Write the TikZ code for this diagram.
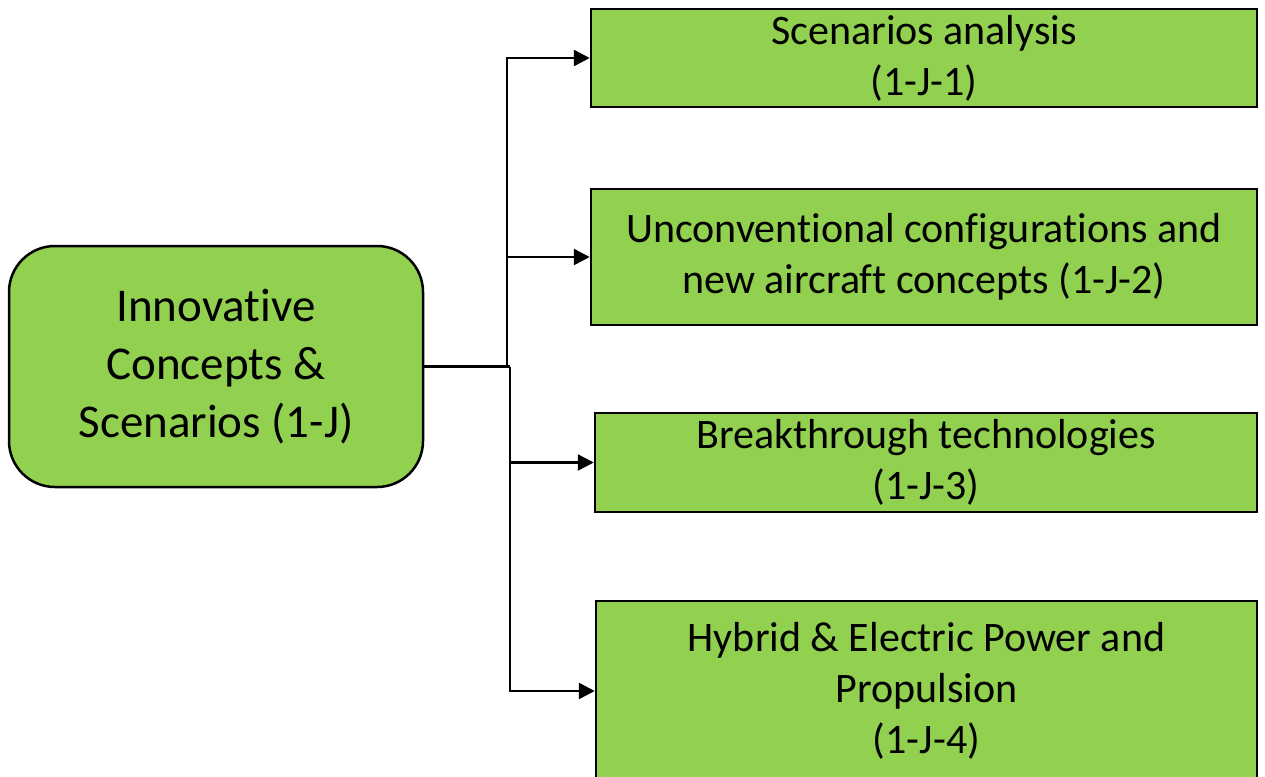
\documentclass[tikz,border=0pt]{standalone}
\usepackage{fontspec}
\setmainfont{Carlito}[RawFeature={-liga,-clig,-dlig}]
\usetikzlibrary{arrows.meta}
\definecolor{leafgreen}{HTML}{92D050}
\begin{document}
\begin{tikzpicture}[x=1pt,y=-1pt,
  rootbox/.style={draw=black, line width=2.5pt, fill=leafgreen, rounded corners=46pt,
    minimum width=414pt, minimum height=241pt, inner sep=0pt, align=center,
    font=\fontsize{47}{58}\selectfont},
  topicbox/.style={draw=black, line width=2.5pt, fill=leafgreen, inner sep=0pt,
    align=center, font=\fontsize{42}{51}\selectfont},
  link/.style={draw=black, line width=2.5pt},
  arrowlink/.style={link, -{Triangle[length=16pt,width=16pt]}}]
  \useasboundingbox (0,0) rectangle (1265,776);

  % root topic
  \node[rootbox] (root) at (216,366.5) {Innovative\\Concepts \&\\Scenarios (1-J)};

  % sub-topics
  \node[topicbox, minimum width=666pt, minimum height=98pt]  (b1) at (924,58)    {Scenarios analysis\\(1-J-1)};
  \node[topicbox, minimum width=666pt, minimum height=136pt] (b2) at (924,257)   {Unconventional configurations and\\new aircraft concepts (1-J-2)};
  \node[topicbox, minimum width=662pt, minimum height=99pt]  (b3) at (926,462.5) {Breakthrough technologies\\(1-J-3)};
  \node[topicbox, minimum width=661pt, minimum height=180pt] (b4) at (926.5,691) {Hybrid \& Electric Power and\\Propulsion\\(1-J-4)};

  % branch points of the two elbow trunks
  \coordinate (up) at (507,366.5);
  \coordinate (dn) at (510,366.5);

  \draw[link] (root.east) -- (dn);
  \draw[arrowlink] (root.east) -- (up) |- (b1.west);
  \draw[arrowlink] (up) |- (b2.west);
  \draw[arrowlink] (dn) |- (b3.west);
  \draw[arrowlink] (dn) |- (b4.west);
\end{tikzpicture}
\end{document}
